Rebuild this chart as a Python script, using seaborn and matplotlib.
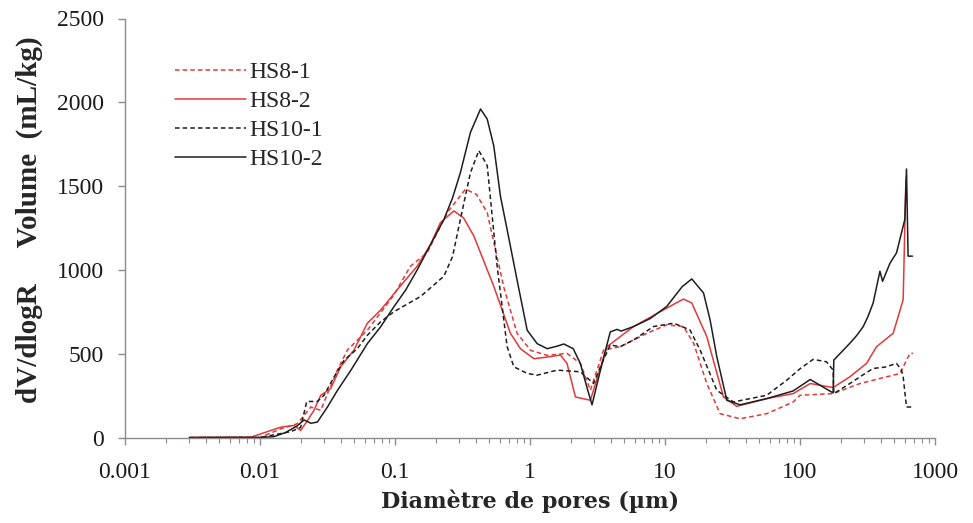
import numpy as np
import pandas as pd
import matplotlib
matplotlib.use("Agg")
import matplotlib.pyplot as plt
from matplotlib import font_manager
from matplotlib.ticker import LogLocator, NullFormatter
import seaborn as sns

# Pore diameter (um) and dV/dlogR (mL/kg)
hs10_2_d = [0.003, 0.0100, 0.01265, 0.0155, 0.0189, 0.0212, 0.0238, 0.0266, 0.0316, 0.0374,
            0.0470, 0.0624, 0.0782, 0.0981, 0.120, 0.146, 0.183, 0.230, 0.267, 0.305,
            0.362, 0.430, 0.482, 0.539, 0.604, 0.677, 0.802, 0.953, 1.13, 1.34,
            1.59, 1.78, 2.09, 2.36, 2.66, 2.88, 3.32, 3.93, 4.41, 4.74,
            5.85, 7.78, 10.3, 13.4, 15.8, 19.3, 21.6, 24.2, 28.7, 36.0,
            56.7, 89.1, 119, 176, 178, 234, 264, 294, 318, 348,
            391, 409, 464, 519, 598, 615, 632, 681]
hs10_2_v = [0, 0, 5, 30, 70, 105, 85, 92, 182, 280,
            400, 560, 660, 780, 880, 1000, 1150, 1300, 1430, 1580,
            1820, 1960, 1900, 1740, 1440, 1240, 940, 640, 560, 530,
            545, 558, 530, 442, 290, 195, 400, 630, 645, 635,
            662, 710, 782, 900, 946, 862, 700, 482, 222, 195,
            232, 278, 346, 266, 462, 562, 610, 662, 720, 802,
            992, 932, 1040, 1102, 1302, 1602, 1082, 1082]

hs10_1_d = [0.00365, 0.0100, 0.0169, 0.0200, 0.0222, 0.0266, 0.0298, 0.0353, 0.0419, 0.0526,
            0.0624, 0.0782, 0.0981, 0.155, 0.230, 0.267, 0.305, 0.362, 0.418, 0.482,
            0.571, 0.677, 0.759, 0.953, 1.13, 1.59, 2.36, 2.96, 3.32, 3.93,
            4.67, 5.85, 8.22, 11.6, 15.3, 18.2, 24.2, 32.1, 56.7, 79.8,
            100, 125, 157, 176, 178, 234, 288, 348, 426, 519,
            565, 581, 615, 670]
hs10_1_v = [0, 0, 35, 60, 215, 215, 252, 360, 460, 530,
            610, 690, 750, 842, 962, 1080, 1302, 1580, 1712, 1622,
            1022, 542, 422, 382, 372, 402, 392, 322, 422, 552,
            542, 582, 662, 682, 642, 522, 282, 212, 252, 342,
            410, 466, 452, 402, 262, 322, 370, 412, 420, 442,
            402, 362, 182, 182]

hs8_2_d = [0.003, 0.00855, 0.0143, 0.0179, 0.0200, 0.0225, 0.0251, 0.0282, 0.0334, 0.0396,
           0.0497, 0.0624, 0.0782, 0.104, 0.146, 0.183, 0.217, 0.273, 0.322, 0.384,
           0.539, 0.716, 0.849, 1.07, 1.34, 1.68, 1.88, 2.17, 2.80, 3.72,
           5.85, 10.3, 13.7, 15.8, 20.4, 27.1, 34.0, 56.7, 89.1, 119,
           176, 234, 311, 369, 490, 581, 608, 615]
hs8_2_v = [0, 2, 62, 72, 42, 102, 162, 252, 292, 422,
           522, 682, 760, 882, 1022, 1150, 1282, 1352, 1310, 1202,
           902, 622, 530, 470, 480, 492, 442, 242, 222, 542,
           662, 772, 826, 802, 602, 242, 186, 232, 262, 322,
           298, 362, 442, 542, 622, 822, 1522, 1560]

hs8_1_d = [0.003, 0.0100, 0.0143, 0.0189, 0.0238, 0.0282, 0.0316, 0.0374, 0.0444, 0.0624,
           0.0981, 0.130, 0.173, 0.244, 0.333, 0.402, 0.482, 0.638, 0.802, 1.01,
           1.34, 1.88, 2.36, 2.80, 3.51, 4.67, 7.35, 10.3, 13.7, 16.3,
           20.4, 25.6, 36.0, 56.7, 89.1, 100, 176, 278, 550, 652,
           689]
hs8_1_v = [0, 0, 52, 82, 182, 162, 262, 402, 522, 640,
           850, 1022, 1102, 1342, 1482, 1450, 1342, 900, 622, 520,
           490, 502, 442, 282, 522, 542, 622, 672, 662, 562,
           322, 142, 112, 142, 212, 252, 262, 322, 382, 502,
           502]

series = [
    ("HS8-1", hs8_1_d, hs8_1_v, "#e03a3a", (0, (3, 2))),
    ("HS8-2", hs8_2_d, hs8_2_v, "#e03a3a", "-"),
    ("HS10-1", hs10_1_d, hs10_1_v, "#1e1e1e", (0, (3, 2))),
    ("HS10-2", hs10_2_d, hs10_2_v, "#1e1e1e", "-"),
]

x_ticks = [0.001, 0.01, 0.1, 1, 10, 100, 1000]
x_tick_labels = ["0.001", "0.01", "0.1", "1", "10", "100", "1000"]
y_ticks = [0, 500, 1000, 1500, 2000, 2500]

# pick a Times-like serif that is actually installed
installed = {f.name for f in font_manager.fontManager.ttflist}
serif = next((n for n in ["Liberation Serif", "Times New Roman", "Nimbus Roman",
                          "TeX Gyre Termes", "FreeSerif", "Noto Serif", "DejaVu Serif"]
              if n in installed), "DejaVu Serif")

sns.set_style("ticks")
plt.rcParams["font.family"] = [serif, "DejaVu Serif"]

fig = plt.figure(figsize=(9.73, 5.23), dpi=100)
ax = fig.add_axes([125 / 973, 1 - 437.5 / 523, 810 / 973, 419 / 523])

for name, d, v, color, ls in series:
    df = pd.DataFrame({"d": d, "v": v})
    sns.lineplot(data=df, x="d", y="v", ax=ax, color=color, linestyle=ls,
                 linewidth=1.1, label=name, estimator=None, sort=False)

ax.set_xscale("log")
ax.set_xlim(0.001, 1000)
ax.set_ylim(0, 2500)
ax.set_xticks(x_ticks)
ax.set_xticklabels(x_tick_labels)
ax.xaxis.set_minor_locator(LogLocator(base=10, subs=np.arange(2, 10)))
ax.xaxis.set_minor_formatter(NullFormatter())
ax.set_yticks(y_ticks)

gray = "#8c8c8c"
for side in ["top", "right"]:
    ax.spines[side].set_visible(False)
for side in ["left", "bottom"]:
    ax.spines[side].set_color(gray)
    ax.spines[side].set_linewidth(1.0)
ax.tick_params(axis="both", which="major", direction="out", length=5, width=1,
               color=gray, labelsize=17, labelcolor="#1a1a1a")
ax.tick_params(axis="x", which="minor", direction="out", length=3.5, width=0.8, color=gray)
ax.tick_params(axis="y", pad=10)
ax.tick_params(axis="x", pad=13)

ax.set_xlabel("Diamètre de pores (µm)", fontsize=16, fontweight="bold",
              family=["DejaVu Serif"], labelpad=4)
ax.set_ylabel("dV/dlogR     Volume  (mL/kg)", fontsize=21, fontweight="bold")
ax.yaxis.set_label_coords(-0.101, (437.5 - 220) / 419)

ax.legend(loc="upper left", bbox_to_anchor=(0.050, 0.92), frameon=False, fontsize=17,
          handlelength=3.0, handletextpad=0.15, labelspacing=0.32, borderaxespad=0)

fig.savefig("out.png", dpi=100)
